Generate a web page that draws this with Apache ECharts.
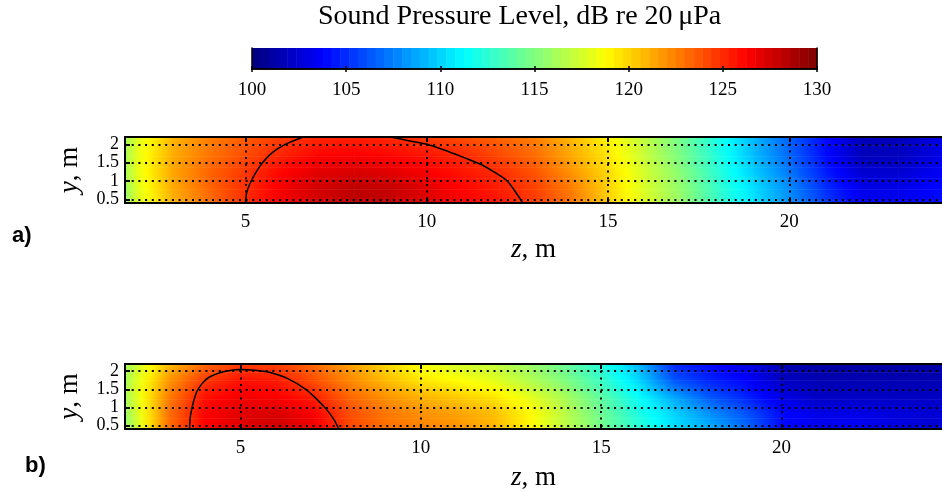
<!DOCTYPE html>
<html>
<head>
<meta charset="utf-8" />
<title>Sound Pressure Level</title>
<script src="https://cdn.jsdelivr.net/npm/echarts@6/dist/echarts.min.js"></script>
<style>
  html, body { margin: 0; padding: 0; background: #fff; }
  #main { width: 942px; height: 492px; }
</style>
</head>
<body>
<div id="main"></div>
<script>
var zNodes = [1, 2, 3, 4, 5, 6, 7, 8, 9, 10, 11, 12, 13, 14, 15, 16, 17, 18, 19, 20, 21, 22, 23, 24, 25];
var yNodes = [0.4, 0.85, 1.3, 1.75, 2.2];

// panel a) levels, dB, one row per y node (bottom to top)
var levelsA = [
  [111.5, 117.5, 121, 123, 125, 126.5, 127.5, 128.3, 128, 127.2, 126.3, 125.6, 124.5, 122.8, 120.2, 117.7, 115.7, 113, 110.5, 108, 105.5, 103.5, 103.5, 104, 104.5],
  [112, 117.8, 121.3, 123.3, 124.9, 126.6, 127.6, 128.1, 127.9, 127.1, 126.1, 125.4, 124.3, 122.5, 120.1, 117.6, 115.5, 112.8, 110.3, 107.8, 105, 103, 103, 103.8, 104.3],
  [112.5, 118, 121.4, 123.3, 124.6, 126.1, 127, 127.3, 127, 126.3, 125.6, 124.9, 123.7, 121.8, 119.8, 117.4, 115.2, 112.5, 109.8, 107.2, 104.5, 102.3, 102.3, 103.3, 104],
  [112.5, 118, 121.2, 122.8, 124, 125.2, 126.1, 126.3, 126, 125.6, 125, 124.1, 123, 121.2, 119.4, 117.1, 114.8, 112.2, 109.3, 106.7, 104, 101.7, 101.8, 102.8, 103.5],
  [112.3, 117.7, 120.9, 122.5, 123.6, 124.5, 125.1, 125.3, 125, 124.5, 124, 123.3, 122.5, 120.8, 119, 116.8, 114.6, 112, 109.2, 106.6, 104, 101.8, 101.8, 102.8, 103.5]
];

// panel b) levels, dB
var levelsB = [
  [112, 116.5, 123, 126.3, 127.2, 127.6, 126.8, 124.3, 123, 122.5, 122, 121, 119, 116.8, 114.7, 112.5, 110.5, 109, 107, 104, 103.5, 103.8, 103.2, 102.5, 102.5],
  [112.3, 116.8, 122.9, 126.2, 127.1, 127.4, 126.4, 124, 122.8, 122, 121.5, 120.7, 118.9, 116.7, 114.5, 112.2, 110, 108, 106.2, 104, 103, 103, 102.7, 102.5, 102.5],
  [112.5, 117.2, 122.5, 125.8, 126.6, 126.4, 125.4, 123.3, 122, 121, 120.3, 119.5, 118, 116.2, 114, 111.5, 108.7, 106.3, 104.8, 103, 102, 102, 102, 102, 102],
  [112.5, 117.2, 121.8, 124.6, 125.8, 125.5, 124, 122.3, 120.8, 119.5, 118.8, 118, 116.5, 115, 113, 110.2, 106.3, 104.8, 103.8, 102, 101.5, 101.5, 101.5, 101.5, 101.5],
  [112.2, 116.8, 120.7, 123.2, 124.5, 124.4, 123.2, 121.6, 120, 118.5, 117.5, 117, 115.8, 114.3, 112.3, 109.3, 105, 104, 103, 101.5, 101, 101, 101, 101, 101]
];

// 125 dB contour lines [z, y]
var contourA1 = [[5.0, 0.4], [5.04, 0.7], [5.16, 1.0], [5.3, 1.25], [5.47, 1.5], [5.75, 1.78], [6.1, 2.0], [6.6, 2.2]];
var contourA2 = [[9.0, 2.2], [9.5, 2.1], [10, 2.0], [10.5, 1.84], [11.0, 1.65], [11.5, 1.45], [11.9, 1.22], [12.2, 1.02], [12.45, 0.7], [12.65, 0.4]];
var contourB = [[3.59, 0.4], [3.62, 0.8], [3.78, 1.41], [3.95, 1.67], [4.14, 1.84], [4.5, 1.98], [4.97, 2.05], [5.4, 2.03], [5.8, 1.97], [6.3, 1.8], [6.82, 1.49], [7.12, 1.22], [7.38, 0.95], [7.58, 0.68], [7.73, 0.4]];

var zTicks = [5, 10, 15, 20];
var yTicks = [0.5, 1, 1.5, 2];
var cMin = 100, cMax = 130;

function jet(v) {
  var t = (v - cMin) / (cMax - cMin);
  t = Math.max(0, Math.min(1, t));
  function ch(c) { return Math.round(255 * Math.max(0, Math.min(1, 1.5 - Math.abs(4 * t - c)))); }
  return 'rgb(' + ch(3) + ',' + ch(2) + ',' + ch(1) + ')';
}

function buildCells(levels) {
  var out = [];
  for (var r = 0; r < yNodes.length - 1; r++) {
    for (var i = 0; i < zNodes.length - 1; i++) {
      out.push([zNodes[i], zNodes[i + 1], yNodes[r], yNodes[r + 1],
        levels[r][i], levels[r][i + 1], levels[r + 1][i], levels[r + 1][i + 1]]);
    }
  }
  return out;
}

// shaded like matlab "shading interp": thin strips with horizontal gradients
function renderField(params, api) {
  var z0 = api.value(0), z1 = api.value(1), y0 = api.value(2), y1 = api.value(3);
  var a = api.value(4), b = api.value(5), c = api.value(6), d = api.value(7);
  var n = 6, kids = [];
  for (var k = 0; k < n; k++) {
    var f = (k + 0.5) / n;
    var ya = y0 + (y1 - y0) * k / n, yb = y0 + (y1 - y0) * (k + 1) / n;
    var p0 = api.coord([z0, ya]), p1 = api.coord([z1, yb]);
    var left = a + (c - a) * f, right = b + (d - b) * f;
    var stops = [];
    for (var s = 0; s <= 4; s++) {
      stops.push({ offset: s / 4, color: jet(left + (right - left) * s / 4) });
    }
    kids.push({
      type: 'rect',
      shape: { x: p0[0], y: p1[1], width: p1[0] - p0[0] + 0.6, height: p0[1] - p1[1] + 0.6 },
      style: { fill: new echarts.graphic.LinearGradient(0, 0, 1, 0, stops) }
    });
  }
  return { type: 'group', children: kids };
}

// colour bar, 64 levels like jet(64)
var barCells = [];
for (var j = 0; j < 64; j++) {
  var lo = cMin + (cMax - cMin) * j / 64, hi = cMin + (cMax - cMin) * (j + 1) / 64;
  barCells.push([lo, hi, (lo + hi) / 2]);
}
function renderBar(params, api) {
  var p0 = api.coord([api.value(0), 0]), p1 = api.coord([api.value(1), 1]);
  return {
    type: 'rect',
    shape: { x: p0[0], y: p1[1], width: p1[0] - p0[0] + 0.5, height: p0[1] - p1[1] },
    style: { fill: jet(api.value(2)) }
  };
}

var serif = 'Liberation Serif';
var tickFont = { fontFamily: serif, fontSize: 19, color: '#000' };
var dotted = { color: '#000', width: 2, type: [2, 4.7] };

function panelAxes(gi, zmin, zmax, nameGap) {
  return {
    x: [{
      gridIndex: gi, type: 'value', min: zmin, max: zmax, position: 'bottom', z: 10,
      name: '{i|z}, m', nameLocation: 'middle', nameGap: nameGap,
      nameTextStyle: { fontFamily: serif, fontSize: 27, color: '#000', rich: { i: { fontFamily: serif, fontStyle: 'italic', fontSize: 27 } } },
      axisLine: { lineStyle: { color: '#000', width: 2 } },
      axisTick: { inside: true, length: 5, customValues: zTicks, lineStyle: { color: '#000', width: 2 } },
      axisLabel: Object.assign({ margin: 10, customValues: zTicks }, tickFont),
      splitLine: { show: true, lineStyle: dotted }
    }, {
      gridIndex: gi, type: 'value', min: zmin, max: zmax, position: 'top', z: 10,
      axisLine: { lineStyle: { color: '#000', width: 2 } },
      axisTick: { inside: true, length: 5, customValues: zTicks, lineStyle: { color: '#000', width: 2 } },
      axisLabel: { show: false },
      splitLine: { show: false }
    }],
    y: {
      gridIndex: gi, type: 'value', min: 0.4, max: 2.2, z: 10,
      name: '{i|y}, m', nameLocation: 'middle', nameGap: 42,
      nameTextStyle: { fontFamily: serif, fontSize: 27, color: '#000', rich: { i: { fontFamily: serif, fontStyle: 'italic', fontSize: 27 } } },
      axisLine: { lineStyle: { color: '#000', width: 2 } },
      axisTick: { inside: true, length: 5, customValues: yTicks, lineStyle: { color: '#000', width: 2 } },
      axisLabel: { margin: 6, customValues: yTicks, fontFamily: serif, fontSize: 18, color: '#000', lineHeight: 16 },
      splitLine: { show: true, lineStyle: dotted }
    }
  };
}

var pa = panelAxes(1, 1.68, 24.21, 33);
var pb = panelAxes(2, 1.80, 24.45, 35);

var chart = echarts.init(document.getElementById('main'));
chart.setOption({
  animation: false,
  backgroundColor: '#fff',
  graphic: [
    { type: 'text', left: 318, top: 3, style: { text: 'Sound Pressure Level, dB re 20\u2009\u03bcPa', fontFamily: serif, fontSize: 28, fill: '#000' } },
    { type: 'text', left: 12, top: 225, style: { text: 'a)', fontFamily: 'Liberation Sans', fontWeight: 'bold', fontSize: 22, fill: '#000' } },
    { type: 'text', left: 25, top: 455, style: { text: 'b)', fontFamily: 'Liberation Sans', fontWeight: 'bold', fontSize: 22, fill: '#000' } }
  ],
  grid: [
    { left: 252, top: 48, width: 565, height: 21 },
    { left: 125, top: 137, right: -3, height: 66 },
    { left: 125, top: 364, right: -3, height: 67 }
  ],
  xAxis: [{
    gridIndex: 0, type: 'value', min: cMin, max: cMax, interval: 5, position: 'bottom', z: 10,
    axisLine: { lineStyle: { color: '#000', width: 1.5 } },
    axisTick: { inside: true, length: 3, lineStyle: { color: '#000', width: 1.5 } },
    axisLabel: Object.assign({ margin: 12 }, tickFont),
    splitLine: { show: false }
  }, {
    gridIndex: 0, type: 'value', min: cMin, max: cMax, interval: 5, position: 'top', z: 10,
    axisLine: { lineStyle: { color: '#000', width: 1.5 } },
    axisTick: { inside: true, length: 3, lineStyle: { color: '#000', width: 1.5 } },
    axisLabel: { show: false },
    splitLine: { show: false }
  }].concat(pa.x, pb.x),
  yAxis: [{
    gridIndex: 0, type: 'value', min: 0, max: 1, z: 10,
    axisLine: { show: true, lineStyle: { color: '#000', width: 1.5 } },
    axisTick: { show: false }, axisLabel: { show: false }, splitLine: { show: false }
  }, {
    gridIndex: 0, type: 'value', min: 0, max: 1, position: 'right', z: 10,
    axisLine: { show: true, lineStyle: { color: '#000', width: 1.5 } },
    axisTick: { show: false }, axisLabel: { show: false }, splitLine: { show: false }
  }, pa.y, pb.y],
  series: [
    { type: 'custom', xAxisIndex: 0, yAxisIndex: 0, renderItem: renderBar, data: barCells, encode: { x: [0, 1] }, silent: true },
    { type: 'custom', xAxisIndex: 2, yAxisIndex: 2, renderItem: renderField, data: buildCells(levelsA), encode: { x: [0, 1], y: [2, 3] }, clip: true, silent: true },
    { type: 'custom', xAxisIndex: 4, yAxisIndex: 3, renderItem: renderField, data: buildCells(levelsB), encode: { x: [0, 1], y: [2, 3] }, clip: true, silent: true },
    { type: 'line', xAxisIndex: 2, yAxisIndex: 2, data: contourA1, smooth: 0.3, symbol: 'none', z: 5, lineStyle: { color: '#000', width: 1.5 }, clip: true },
    { type: 'line', xAxisIndex: 2, yAxisIndex: 2, data: contourA2, smooth: 0.3, symbol: 'none', z: 5, lineStyle: { color: '#000', width: 1.5 }, clip: true },
    { type: 'line', xAxisIndex: 4, yAxisIndex: 3, data: contourB, smooth: 0.3, symbol: 'none', z: 5, lineStyle: { color: '#000', width: 1.5 }, clip: true }
  ]
});
</script>
</body>
</html>
